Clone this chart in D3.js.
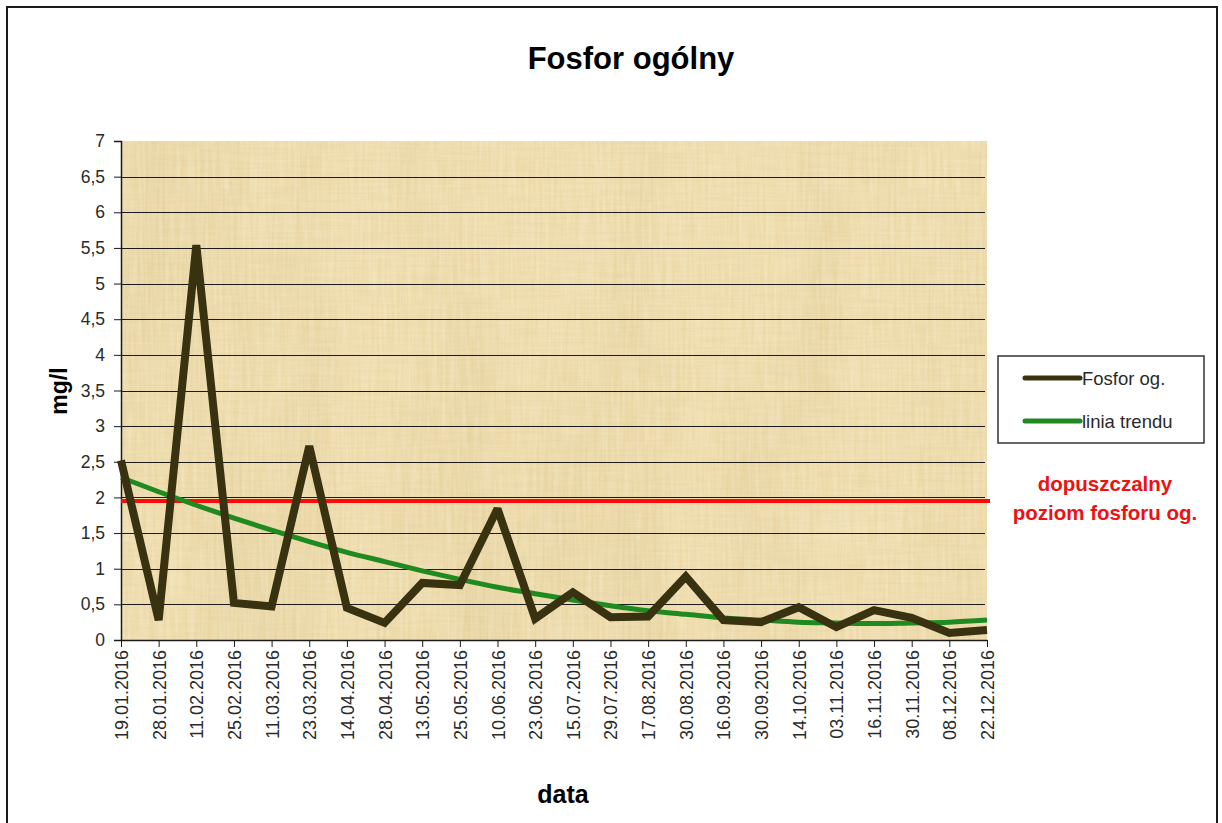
<!DOCTYPE html>
<html>
<head>
<meta charset="utf-8">
<script src="https://cdn.jsdelivr.net/npm/d3@7"></script>
<style>
  body { margin: 0; background: #fff; }
  svg { display: block; font-family: "Liberation Sans", Arial, sans-serif; }
</style>
</head>
<body>
<svg id="chart"></svg>
<script>
// sampling dates (x categories)
const dates = [
  "19.01.2016", "28.01.2016", "11.02.2016", "25.02.2016", "11.03.2016", "23.03.2016",
  "14.04.2016", "28.04.2016", "13.05.2016", "25.05.2016", "10.06.2016", "23.06.2016",
  "15.07.2016", "29.07.2016", "17.08.2016", "30.08.2016", "16.09.2016", "30.09.2016",
  "14.10.2016", "03.11.2016", "16.11.2016", "30.11.2016", "08.12.2016", "22.12.2016"
];
// measured total phosphorus, mg/l
const fosfor = [
  2.52, 0.28, 5.54, 0.52, 0.47, 2.72, 0.45, 0.24, 0.8, 0.77, 1.84, 0.3,
  0.67, 0.32, 0.33, 0.89, 0.28, 0.25, 0.46, 0.18, 0.42, 0.31, 0.1, 0.14
];
// trend line values
const trend = [
  2.28, 2.08, 1.89, 1.71, 1.54, 1.38, 1.23, 1.1, 0.97, 0.85, 0.74, 0.65,
  0.56, 0.48, 0.41, 0.36, 0.31, 0.28, 0.25, 0.24, 0.23, 0.24, 0.25, 0.28
];
const limit = 1.95; // dopuszczalny poziom
const yTicks = [0, 0.5, 1, 1.5, 2, 2.5, 3, 3.5, 4, 4.5, 5, 5.5, 6, 6.5, 7];

const width = 1222, height = 823;
const plot = { left: 121, right: 987, top: 141, bottom: 640 };

const svg = d3.select("#chart").attr("width", width).attr("height", height);

// outer frame
svg.append("rect")
  .attr("x", 7).attr("y", 7)
  .attr("width", 1210).attr("height", 830)
  .attr("fill", "#fff")
  .attr("stroke", "#1a1a1a")
  .attr("stroke-width", 2);

// papyrus-like texture for plot area
const defs = svg.append("defs");
const f1 = defs.append("filter").attr("id", "fibers")
  .attr("x", 0).attr("y", 0).attr("width", 1).attr("height", 1);
f1.append("feTurbulence")
  .attr("type", "fractalNoise")
  .attr("baseFrequency", "0.012 0.0025")
  .attr("numOctaves", 3)
  .attr("seed", 4);
f1.append("feColorMatrix")
  .attr("type", "matrix")
  .attr("values", "0 0 0 0 0.6  0 0 0 0 0.47  0 0 0 0 0.2  0 0 0 0.45 -0.17");

const f2 = defs.append("filter").attr("id", "grain")
  .attr("x", 0).attr("y", 0).attr("width", 1).attr("height", 1);
f2.append("feTurbulence")
  .attr("type", "fractalNoise")
  .attr("baseFrequency", "0.35 0.02")
  .attr("numOctaves", 2)
  .attr("seed", 9);
f2.append("feColorMatrix")
  .attr("type", "matrix")
  .attr("values", "0 0 0 0 1  0 0 0 0 0.97  0 0 0 0 0.85  0 0 0 0.5 -0.12");

const f3 = defs.append("filter").attr("id", "grain2")
  .attr("x", 0).attr("y", 0).attr("width", 1).attr("height", 1);
f3.append("feTurbulence")
  .attr("type", "fractalNoise")
  .attr("baseFrequency", "0.02 0.4")
  .attr("numOctaves", 2)
  .attr("seed", 2);
f3.append("feColorMatrix")
  .attr("type", "matrix")
  .attr("values", "0 0 0 0 0.65  0 0 0 0 0.52  0 0 0 0 0.28  0 0 0 0.3 -0.1");

const pw = plot.right - plot.left, ph = plot.bottom - plot.top;
svg.append("rect")
  .attr("x", plot.left).attr("y", plot.top).attr("width", pw).attr("height", ph)
  .attr("fill", "#eedba9");
["fibers", "grain", "grain2"].forEach(id => {
  svg.append("rect")
    .attr("x", plot.left).attr("y", plot.top).attr("width", pw).attr("height", ph)
    .attr("fill", "#000")
    .attr("filter", `url(#${id})`);
});

const x = d3.scalePoint()
  .domain(dates)
  .range([plot.left, plot.right]);

const y = d3.scaleLinear()
  .domain([0, 7])
  .range([plot.bottom, plot.top]);

// horizontal gridlines
svg.append("g")
  .selectAll("line")
  .data(yTicks.filter(d => d > 0 && d < 7))
  .join("line")
  .attr("x1", plot.left).attr("x2", plot.right - 2)
  .attr("y1", d => Math.round(y(d)) + 0.5)
  .attr("y2", d => Math.round(y(d)) + 0.5)
  .attr("stroke", "#1a1a1a")
  .attr("stroke-width", 1.2);

// y axis
const yAxis = svg.append("g")
  .attr("transform", `translate(${plot.left},0)`)
  .call(d3.axisLeft(y)
    .tickValues(yTicks)
    .tickSize(7)
    .tickPadding(9)
    .tickFormat(d => String(d).replace(".", ",")));
yAxis.select(".domain").attr("stroke", "#1a1a1a").attr("stroke-width", 1.5);
yAxis.selectAll(".tick line").attr("stroke", "#1a1a1a");
yAxis.selectAll("text")
  .style("font-size", "17.5px")
  .style("fill", "#2a2a2a");

// x axis
const xAxis = svg.append("g")
  .attr("transform", `translate(0,${plot.bottom})`)
  .call(d3.axisBottom(x).tickSize(7).tickSizeOuter(0));
xAxis.select(".domain").attr("stroke", "#1a1a1a").attr("stroke-width", 1.5);
xAxis.selectAll(".tick line").attr("stroke", "#1a1a1a");
xAxis.selectAll("text")
  .style("font-size", "18px")
  .style("fill", "#2a2a2a")
  .attr("text-anchor", "end")
  .attr("transform", "rotate(-90)")
  .attr("x", -10)
  .attr("y", 0)
  .attr("dy", "0.36em");

// limit line
svg.append("line")
  .attr("x1", plot.left).attr("x2", plot.right + 3)
  .attr("y1", y(limit)).attr("y2", y(limit))
  .attr("stroke", "#ff0a0a")
  .attr("stroke-width", 4);

// trend line
svg.append("path")
  .datum(trend)
  .attr("fill", "none")
  .attr("stroke", "#1f8a1f")
  .attr("stroke-width", 5)
  .attr("d", d3.line()
    .x((d, i) => x(dates[i]))
    .y(d => y(d))
    .curve(d3.curveMonotoneX));

// measurements
svg.append("path")
  .datum(fosfor)
  .attr("fill", "none")
  .attr("stroke", "#393210")
  .attr("stroke-width", 8)
  .attr("stroke-linejoin", "miter")
  .attr("stroke-miterlimit", 2.5)
  .attr("d", d3.line()
    .x((d, i) => x(dates[i]))
    .y(d => y(d)));

// title and axis labels
svg.append("text")
  .attr("x", 631).attr("y", 69)
  .attr("text-anchor", "middle")
  .style("font-size", "31px")
  .style("font-weight", "bold")
  .text("Fosfor ogólny");

svg.append("text")
  .attr("transform", "translate(67,391) rotate(-90)")
  .attr("text-anchor", "middle")
  .style("font-size", "23px")
  .style("font-weight", "bold")
  .text("mg/l");

svg.append("text")
  .attr("x", 563).attr("y", 803)
  .attr("text-anchor", "middle")
  .style("font-size", "25px")
  .style("font-weight", "bold")
  .text("data");

// legend
const legend = svg.append("g");
legend.append("rect")
  .attr("x", 998).attr("y", 356)
  .attr("width", 206).attr("height", 87)
  .attr("fill", "#fff")
  .attr("stroke", "#333")
  .attr("stroke-width", 1.5);
const items = [
  { name: "Fosfor og.", color: "#393210", y: 378 },
  { name: "linia trendu", color: "#1f8a1f", y: 421 }
];
items.forEach(it => {
  legend.append("line")
    .attr("x1", 1025).attr("x2", 1080)
    .attr("y1", it.y).attr("y2", it.y)
    .attr("stroke", it.color)
    .attr("stroke-width", 5)
    .attr("stroke-linecap", "round");
  legend.append("text")
    .attr("x", 1082).attr("y", it.y + 6.5)
    .style("font-size", "18.5px")
    .style("fill", "#2a2a2a")
    .text(it.name);
});

// limit annotation
const note = svg.append("text")
  .attr("text-anchor", "middle")
  .style("font-size", "20.5px")
  .style("font-weight", "bold")
  .style("fill", "#ee1111");
note.append("tspan").attr("x", 1105).attr("y", 491).text("dopuszczalny");
note.append("tspan").attr("x", 1105).attr("y", 520).text("poziom fosforu og.");
</script>
</body>
</html>
